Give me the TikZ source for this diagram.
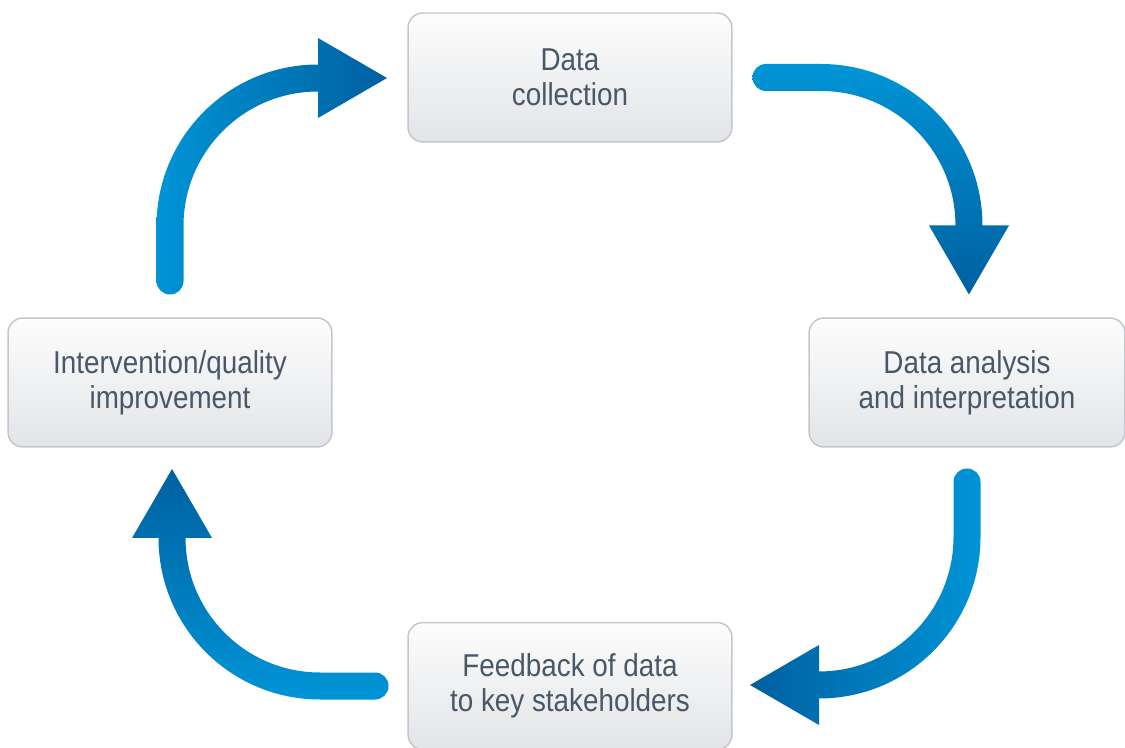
\documentclass[tikz,border=0pt]{standalone}
\usepackage{fontspec}
\setmainfont[FakeStretch=0.88]{Liberation Sans}
\usepackage{xcolor}
\usepackage{tikz}
\usetikzlibrary{shapes,arrows,positioning,calc}

\definecolor{cycleLight}{HTML}{0094D6}
\definecolor{cycleDark}{HTML}{0060A0}
\definecolor{boxLine}{HTML}{C3C7CB}
\definecolor{boxTop}{HTML}{FDFDFD}
\definecolor{boxBottom}{HTML}{E2E4E7}
\definecolor{boxText}{HTML}{485868}

% curved arrow: tail, rotation, straight part, shading
\newcommand{\cyclearrow}[4]{%
  \begin{scope}[shift={(#1)},rotate=#2]
    \shade[#4] (0,13.5) -- (#3,13.5)
      arc[start angle=90,end angle=0,radius=161.5]
      -- ++(26.5,0) -- ++(-40,-69) -- ++(-40,69) -- ++(26.5,0)
      arc[start angle=0,end angle=90,radius=134.5]
      -- (0,-13.5) arc[start angle=270,end angle=90,radius=13.5] -- cycle;
  \end{scope}}

\begin{document}
\begin{tikzpicture}[x=0.02cm,y=0.02cm,
    stage/.style={draw=boxLine, line width=0.85pt, rounded corners=8.5pt,
      top color=boxTop, bottom color=boxBottom, text=boxText, align=center,
      minimum width=6.48cm, minimum height=2.58cm, outer sep=0pt,
      font=\fontsize{18}{19.8}\selectfont}]
    \useasboundingbox (0,0) rectangle (1125,747);
    \clip (0,0) rectangle (1125,747);

    % Stages
    \node[stage] (collect) at (570,669.5) {Data\\collection};
    \node[stage, minimum width=6.32cm] (analysis) at (967,364.5) {Data analysis\\and interpretation};
    \node[stage, minimum height=2.54cm] (feedback) at (570,61) {Feedback of data\\to key stakeholders};
    \node[stage] (improve) at (170,364.5) {Intervention/quality\\improvement};

    % Arrow tails
    \coordinate (tail1) at ($(collect.east)+(34,0)$);
    \coordinate (tail2) at ($(analysis.south)+(0,-35)$);
    \coordinate (tail3) at ($(feedback.west)+(-33,0)$);
    \coordinate (tail4) at ($(improve.north)+(0,37)$);

    % Arrows
    \cyclearrow{tail1}{0}{55}{top color=cycleLight,bottom color=cycleDark}
    \cyclearrow{tail2}{270}{55}{right color=cycleLight,left color=cycleDark}
    \cyclearrow{tail3}{180}{55}{bottom color=cycleLight,top color=cycleDark}
    \cyclearrow{tail4}{90}{55}{left color=cycleLight,right color=cycleDark}
\end{tikzpicture}
\end{document}
